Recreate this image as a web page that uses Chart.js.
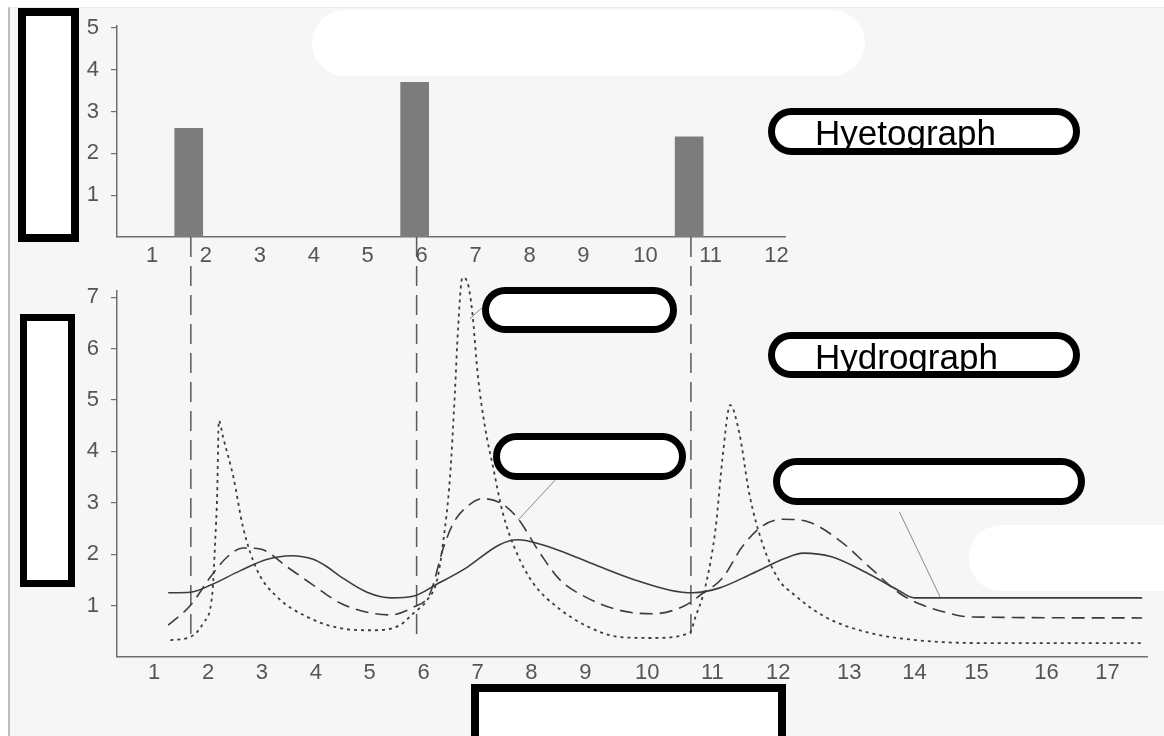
<!DOCTYPE html>
<html>
<head>
<meta charset="utf-8">
<script src="https://cdn.jsdelivr.net/npm/chart.js@4.4.1/dist/chart.umd.min.js"></script>
<style>
  html, body { margin: 0; padding: 0; background: #fff; }
  body { width: 1164px; height: 736px; position: relative; overflow: hidden; font-family: 'Liberation Sans', Arial, sans-serif; }
  .panel { position: absolute; left: 8px; top: 7px; right: 0; bottom: 0; background: #f6f6f6; border-left: 2px solid #bdbdbd; border-top: 1px solid #ececec; }
  canvas { position: absolute; left: 0; }
  #hyeto { top: 0; }
  #hydro { top: 230px; }
  .cover { position: absolute; background: #fff; z-index: 5; }
  .box { position: absolute; box-sizing: border-box; border: 8px solid #000; background: #fff; z-index: 5; }
  .pill { position: absolute; box-sizing: border-box; border: 7px solid #000; border-radius: 24px; background: #fff; overflow: hidden; z-index: 5; }
  .pill span { position: absolute; left: 40px; top: 0; font-size: 35px; line-height: 35px; color: #000; white-space: nowrap; }
</style>
</head>
<body>
<div class="panel"></div>
<canvas id="hyeto" width="800" height="280"></canvas>
<canvas id="hydro" width="1164" height="480"></canvas>

<div class="cover" style="left:312px;top:10px;width:553px;height:66px;border-radius:33px;"></div>
<div class="cover" style="left:969px;top:525px;width:195px;height:66px;border-radius:32px 0 0 32px;"></div>

<div class="box" style="left:18px;top:8px;width:61px;height:234px;"></div>
<div class="box" style="left:20px;top:314px;width:55px;height:273px;border-width:7px;"></div>
<div class="box" style="left:471px;top:684px;width:315px;height:70px;"></div>

<div class="pill" style="left:768px;top:108px;width:312px;height:47px;"><span>Hyetograph</span></div>
<div class="pill" style="left:768px;top:332px;width:312px;height:46px;"><span>Hydrograph</span></div>
<div class="pill" style="left:482px;top:287px;width:195px;height:46px;"></div>
<div class="pill" style="left:493px;top:433px;width:193px;height:47px;"></div>
<div class="pill" style="left:773px;top:458px;width:312px;height:47px;"></div>

<script>
// hours on the time axis
const HOURS = [1, 2, 3, 4, 5, 6, 7, 8, 9, 10, 11, 12, 13, 14, 15, 16, 17];
const HYETO_TICKS = [1, 2, 3, 4, 5];
const HYDRO_TICKS = [1, 2, 3, 4, 5, 6, 7];

// rainfall bursts (hour, depth)
const RAIN_TIME = [1.68, 5.87, 10.67];
const RAIN_DEPTH = [2.6, 3.7, 2.4];

// discharge curves as [hour, flow]
const solidFlow = [
  [1.26, 1.25], [1.67, 1.26], [2.05, 1.4], [2.6, 1.68], [3.1, 1.9], [3.55, 1.97], [3.95, 1.9],
  [4.2, 1.76], [4.45, 1.57], [4.95, 1.26], [5.4, 1.15], [5.8, 1.18], [6.25, 1.42], [6.8, 1.74],
  [7.4, 2.18], [7.75, 2.28], [8.15, 2.2], [8.65, 2.02], [9.25, 1.75], [9.8, 1.5], [10.35, 1.3],
  [10.7, 1.25], [11.1, 1.34], [11.6, 1.62], [12.1, 1.92], [12.35, 2.02], [12.75, 1.95],
  [13.25, 1.65], [13.75, 1.3], [14.0, 1.15], [17.57, 1.15]
];
const dashedFlow = [
  [1.26, 0.62], [1.67, 1.0], [2.04, 1.55], [2.35, 1.94], [2.65, 2.12], [2.97, 2.1], [3.47, 1.75],
  [3.95, 1.4], [4.45, 1.05], [4.95, 0.87], [5.38, 0.82], [5.81, 0.97], [6.12, 1.24], [6.36, 2.1],
  [6.55, 2.6], [6.81, 2.93], [7.1, 3.08], [7.42, 3.0], [7.73, 2.72], [8.16, 2.02], [8.53, 1.5],
  [9.0, 1.17], [9.55, 0.91], [10.08, 0.84], [10.58, 1.0], [10.85, 1.24], [11.15, 1.53],
  [11.45, 2.14], [11.76, 2.55], [12.06, 2.68], [12.44, 2.62], [12.86, 2.27], [13.31, 1.75],
  [13.77, 1.24], [14.13, 1.01], [14.56, 0.85], [14.89, 0.78], [17.57, 0.76]
];
const dottedFlow = [
  [1.3, 0.33], [1.67, 0.39], [1.91, 0.66], [2.08, 1.24], [2.13, 2.2], [2.17, 3.2], [2.2, 4.6],
  [2.28, 4.27], [2.47, 3.5], [2.65, 2.52], [2.91, 1.69], [3.28, 1.17], [3.84, 0.78], [4.45, 0.56],
  [5.06, 0.52], [5.56, 0.62], [5.81, 0.85], [6.06, 1.1], [6.25, 1.5], [6.36, 2.21], [6.49, 3.5],
  [6.58, 5.13], [6.64, 6.4], [6.72, 7.38], [6.81, 7.3], [6.9, 6.74], [7.01, 5.44], [7.14, 4.47],
  [7.29, 3.69], [7.47, 2.8], [7.73, 2.02], [8.03, 1.44], [8.48, 0.97], [9.06, 0.58], [9.55, 0.39],
  [10.08, 0.37], [10.65, 0.47], [10.74, 0.78], [10.89, 1.36], [11.05, 2.52], [11.15, 3.83],
  [11.27, 4.9], [11.41, 4.35], [11.56, 3.18], [11.76, 2.21], [12.01, 1.5], [12.2, 1.24],
  [12.66, 0.78], [13.31, 0.47], [14.02, 0.33], [15.09, 0.27], [17.57, 0.27]
];

// pointer lines from the label bubbles to the curves
const leaderLines = [
  [[6.86, 6.58], [7.09, 6.8]],
  [[7.75, 2.66], [8.44, 3.44]],
  [[14.42, 1.15], [13.77, 2.82]]
];

// the drawn hour spacing is wider after hour 9 in the original figure
const HOUR_GAP = [1, 1, 1, 1, 1, 1, 1, 1, 1.15, 1.21, 1.22, 1.32, 1.21, 1.15, 1.3, 1.13];

const knotH = [0, 1];
const knotU = [0, 1];
HOUR_GAP.forEach((g, i) => { knotH.push(i + 2); knotU.push(knotU[knotU.length - 1] + g); });

function toU(h) {
  if (h <= 1) return h;
  for (let i = 1; i < knotH.length - 1; i++) {
    if (h <= knotH[i + 1]) return knotU[i] + (h - knotH[i]) * (knotU[i + 1] - knotU[i]);
  }
  return knotU[knotU.length - 1] + (h - knotH[knotH.length - 1]) * HOUR_GAP[HOUR_GAP.length - 1];
}
function fromU(u) {
  if (u <= 1) return u;
  for (let i = 1; i < knotU.length - 1; i++) {
    if (u <= knotU[i + 1]) return knotH[i] + (u - knotU[i]) / (knotU[i + 1] - knotU[i]);
  }
  return knotH[knotH.length - 1] + (u - knotU[knotU.length - 1]) / HOUR_GAP[HOUR_GAP.length - 1];
}

class WarpScale extends Chart.LinearScale {
  getPixelForValue(value) {
    const u0 = toU(this.min), u1 = toU(this.max);
    return this.getPixelForDecimal((toU(value) - u0) / (u1 - u0));
  }
  getValueForPixel(pixel) {
    const u0 = toU(this.min), u1 = toU(this.max);
    return fromU(u0 + this.getDecimalForPixel(pixel) * (u1 - u0));
  }
}
WarpScale.id = 'warp';
WarpScale.defaults = Chart.LinearScale.defaults;
Chart.register(WarpScale);

const tickFont = { family: "'Liberation Sans Narrow', 'Liberation Sans', Arial, sans-serif", size: 22 };
const ink = '#555';
const axisLine = '#6e6e6e';

function timeAxis(min, max, pad) {
  return {
    type: 'warp',
    min, max,
    offset: false,
    afterBuildTicks: s => { s.ticks = HOURS.filter(h => h <= max).map(v => ({ value: v })); },
    afterFit: s => { s.height = 40; },
    grid: { display: false, drawTicks: false, offset: false },
    border: { display: true, color: axisLine, width: 1.5 },
    ticks: { color: ink, font: tickFont, padding: pad, maxRotation: 0, autoSkip: false, callback: v => String(v) }
  };
}
function valueAxis(max, ticks) {
  return {
    min: 0, max,
    afterBuildTicks: s => { s.ticks = ticks.map(v => ({ value: v })); },
    afterFit: s => { s.width = 40; },
    grid: { display: true, drawOnChartArea: false, drawTicks: true, tickLength: 6, color: axisLine, lineWidth: 1.2 },
    border: { display: true, color: axisLine, width: 1.5 },
    ticks: { color: ink, font: tickFont, padding: 12, callback: v => String(v) }
  };
}

Chart.defaults.animation = false;

new Chart(document.getElementById('hyeto'), {
  type: 'bar',
  data: {
    datasets: [{
      data: RAIN_TIME.map((t, i) => ({ x: t, y: RAIN_DEPTH[i] })),
      backgroundColor: '#7c7c7c',
      borderWidth: 0,
      barThickness: 28
    }]
  },
  options: {
    responsive: false,
    layout: { padding: { left: 77, top: 26, right: 15, bottom: 3 } },
    plugins: { legend: { display: false }, tooltip: { enabled: false } },
    scales: {
      x: timeAxis(0.35, 12.12, 6),
      y: valueAxis(5.05, HYETO_TICKS)
    }
  }
});

const pts = arr => arr.map(([x, y]) => ({ x, y }));
const curve = (arr, dash, width) => ({
  data: pts(arr),
  borderColor: '#3c3c3c',
  borderWidth: width,
  borderDash: dash,
  pointRadius: 0,
  cubicInterpolationMode: 'monotone',
  fill: false,
  clip: false
});

const datasets = [
  curve(solidFlow, [], 1.6),
  curve(dashedFlow, [13, 7], 1.6),
  curve(dottedFlow, [3, 4], 1.8)
];
RAIN_TIME.forEach(t => datasets.push({
  data: [{ x: t, y: 8.17 }, { x: t, y: 0.31 }],
  borderColor: '#5a5a5a',
  borderWidth: 1.5,
  borderDash: [20, 9],
  pointRadius: 0,
  clip: false
}));
leaderLines.forEach(seg => datasets.push({
  data: pts(seg),
  borderColor: '#8a8a8a',
  borderWidth: 1,
  pointRadius: 0,
  clip: false
}));

new Chart(document.getElementById('hydro'), {
  type: 'line',
  data: { datasets },
  options: {
    responsive: false,
    layout: { padding: { left: 77, top: 61, right: 17, bottom: 13 } },
    plugins: { legend: { display: false }, tooltip: { enabled: false } },
    scales: {
      x: timeAxis(0.31, 17.65, 3),
      y: valueAxis(7.12, HYDRO_TICKS)
    }
  }
});
</script>
</body>
</html>
